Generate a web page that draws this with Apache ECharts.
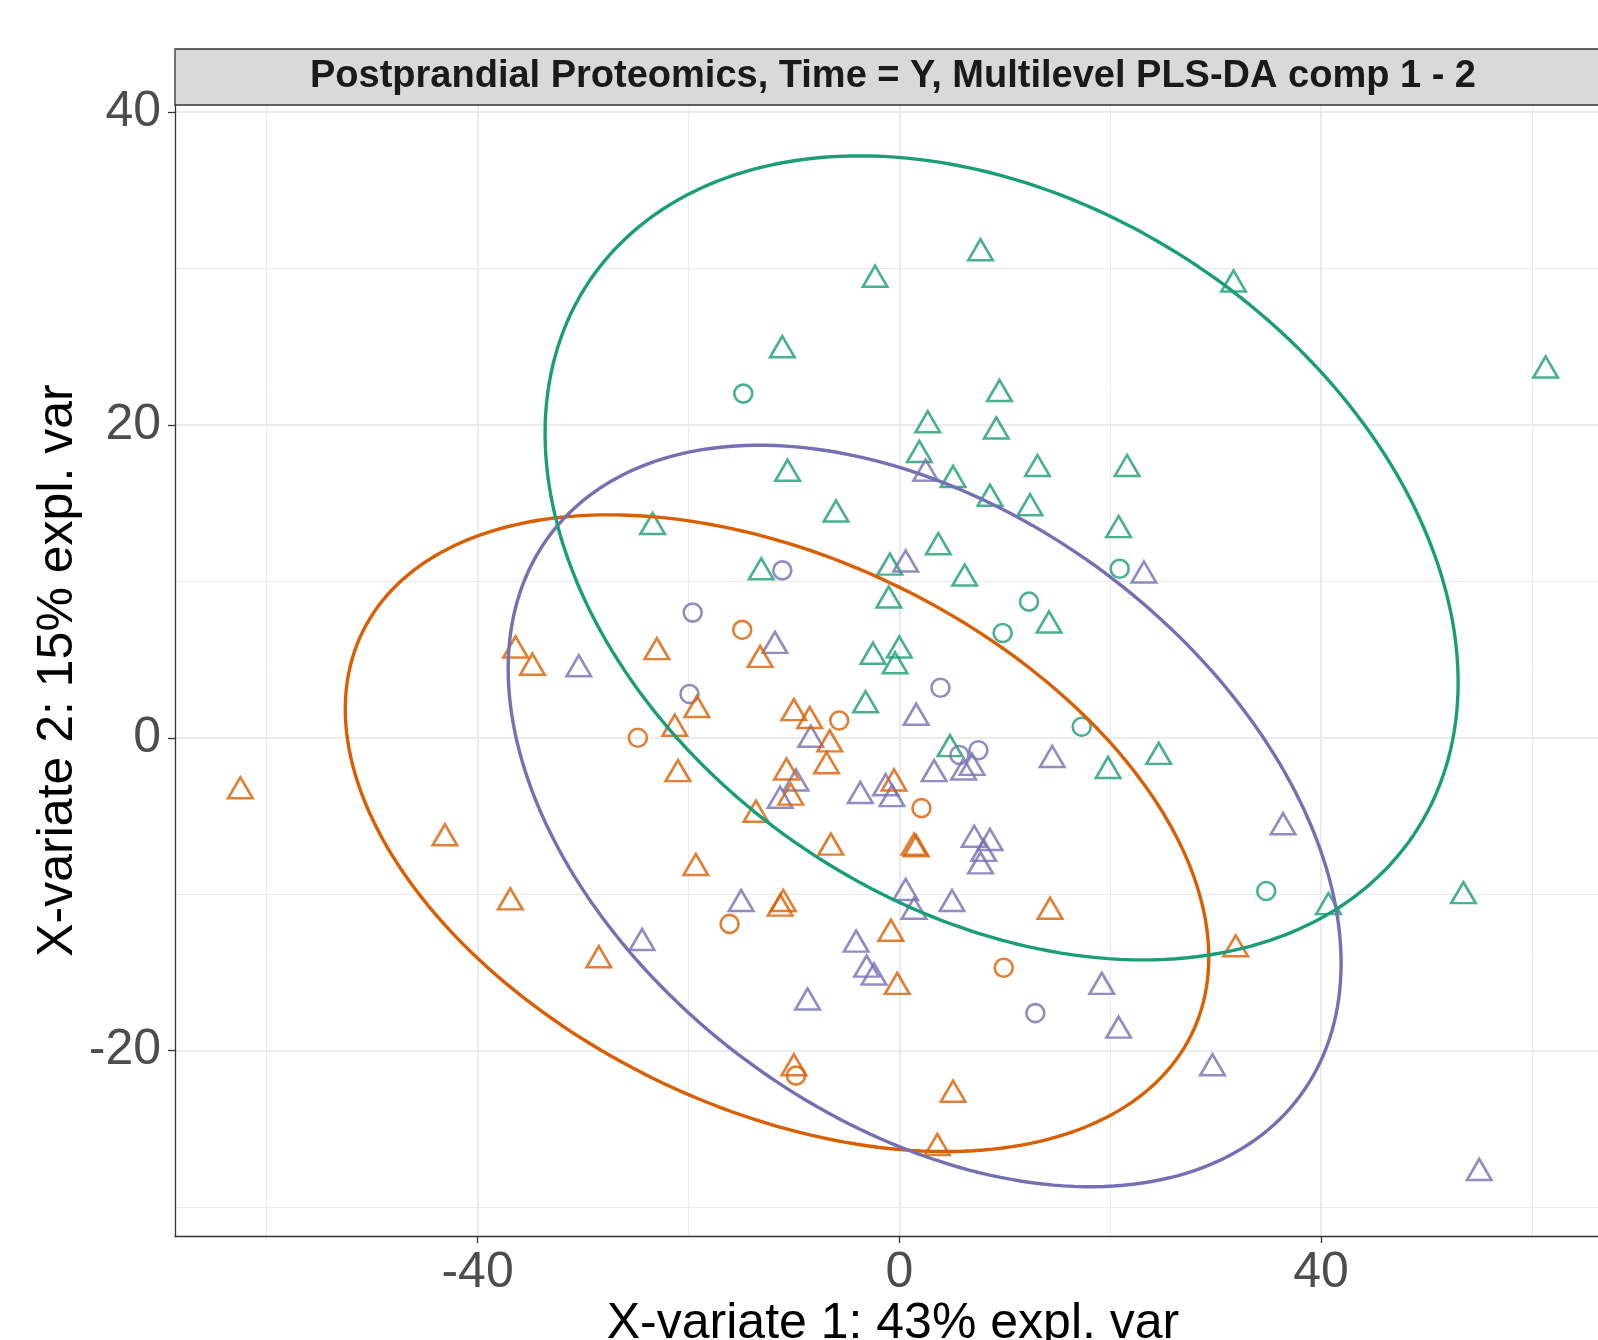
<!DOCTYPE html>
<html>
<head>
<meta charset="utf-8">
<title>Postprandial Proteomics, Multilevel PLS-DA</title>
<script src="https://cdn.jsdelivr.net/npm/echarts@6/dist/echarts.min.js"></script>
<style>
  html, body { margin: 0; padding: 0; background: #ffffff; }
  #container { width: 1598px; height: 1340px; }
</style>
</head>
<body>
<div id="container"></div>
<script>
// sample scores, [X-variate 1, X-variate 2]
const greenTriangles = [
    [-10.6, 17.1], [-6.0, 14.5], [-23.4, 13.7], [-13.1, 10.8], [-0.9, 11.1],
    [-1.0, 9.0], [-2.5, 5.4], [0.0, 5.8], [-0.4, 4.8], [2.7, 20.2],
    [1.9, 18.3], [9.2, 19.8], [13.1, 17.4], [21.6, 17.4], [5.1, 16.7],
    [8.6, 15.5], [12.4, 14.9], [20.8, 13.5], [3.7, 12.4], [6.2, 10.4],
    [14.2, 7.4], [-11.1, 25.0], [-2.3, 29.5], [7.7, 31.2], [31.7, 29.2],
    [9.5, 22.2], [61.3, 23.7], [-3.2, 2.3], [4.8, -0.5], [19.8, -1.9],
    [24.6, -1.0], [40.7, -10.6], [53.5, -9.9]
];
const greenCircles = [
    [-14.8, 22.0], [20.9, 10.8], [12.3, 8.7], [9.8, 6.7], [17.3, 0.7], [34.8, -9.8]
];
const purpleTriangles = [
    [2.5, 17.1], [0.6, 11.3], [23.2, 10.6], [-11.8, 6.1], [-30.4, 4.6],
    [1.6, 1.5], [-8.4, 0.1], [-9.8, -2.7], [-11.3, -3.8], [-3.7, -3.5],
    [-1.3, -3.0], [-0.7, -3.7], [3.3, -2.1], [6.1, -2.0], [6.9, -1.7],
    [14.5, -1.2], [7.1, -6.3], [8.6, -6.5], [8.0, -7.2], [7.7, -8.0],
    [0.6, -9.7], [1.4, -10.9], [5.0, -10.4], [-15.0, -10.4], [-24.4, -12.9],
    [-4.1, -13.0], [-3.1, -14.6], [-2.4, -15.1], [-8.7, -16.7], [19.2, -15.7],
    [20.8, -18.5], [29.7, -20.9], [36.4, -5.5], [55.0, -27.6]
];
const purpleCircles = [
    [-11.1, 10.7], [-19.6, 8.0], [-19.9, 2.8], [3.9, 3.2], [5.7, -1.1], [7.5, -0.8], [12.9, -17.6]
];
const orangeTriangles = [
    [-23.0, 5.7], [-13.2, 5.2], [-19.2, 2.0], [-21.3, 0.8], [-21.0, -2.1],
    [-10.0, 1.8], [-8.5, 1.3], [-6.6, -0.2], [-6.9, -1.6], [-10.7, -2.0],
    [-10.3, -3.6], [-13.6, -4.7], [-0.5, -2.7], [-6.5, -6.8], [1.6, -6.9],
    [1.4, -6.8], [-19.3, -8.1], [-11.0, -10.4], [-11.3, -10.7], [-0.8, -12.3],
    [-0.2, -15.7], [14.3, -10.9], [-10.0, -20.9], [5.1, -22.6], [3.6, -26.0],
    [31.9, -13.3], [-62.5, -3.2], [-36.4, 5.8], [-34.8, 4.7], [-43.1, -6.2],
    [-36.9, -10.3], [-28.5, -14.0]
];
const orangeCircles = [
    [-14.9, 6.9], [-24.8, 0.0], [-5.7, 1.1], [2.1, -4.5], [-16.1, -11.9], [9.9, -14.7], [-9.8, -21.6]
];

// confidence ellipses: [centre x, centre y, sd x, sd y, correlation]
const greenEllipse = [9.7, 11.5, 43.3, 25.7, -0.31];
const purpleEllipse = [2.4, -5.0, 39.5, 23.7, -0.397];
const orangeEllipse = [-11.6, -6.1, 40.95, 20.35, -0.39];

const xMajorTicks = [-40, 0, 40];
const xMinorTicks = [-60, -20, 20, 60];
const yMajorTicks = [-20, 0, 20, 40];
const yMinorTicks = [-30, -10, 10, 30];

const titleText = 'Postprandial Proteomics, Time = Y, Multilevel PLS-DA comp 1 - 2';
const xName = 'X-variate 1: 43% expl. var';
const yName = 'X-variate 2: 15% expl. var';

const GREEN = '#1B9E77', ORANGE = '#D95F02', PURPLE = '#7570B3';
const FONT = '"Liberation Sans", Arial, sans-serif';

function ellipseOutline(p) {
    const [cx, cy, sx, sy, r] = p;
    const pts = [];
    for (let i = 0; i <= 240; i++) {
        const t = i / 240 * 2 * Math.PI;
        pts.push([
            cx + sx * Math.cos(t),
            cy + sy * (r * Math.cos(t) + Math.sqrt(1 - r * r) * Math.sin(t))
        ]);
    }
    return pts;
}

function ellipseSeries(p, color) {
    return {
        type: 'line',
        data: ellipseOutline(p),
        showSymbol: false,
        symbol: 'none',
        smooth: false,
        silent: true,
        lineStyle: { color: color, width: 3.4 },
        z: 4
    };
}

function openSymbols(data, color, symbol) {
    return {
        type: 'scatter',
        data: data,
        symbol: symbol,
        symbolSize: symbol === 'triangle' ? [24.5, 21] : 18,
        itemStyle: { color: 'rgba(0,0,0,0)', borderColor: color, borderWidth: 2.6 },
        silent: true,
        z: 3
    };
}

let dom = document.getElementById('container');
let myChart = echarts.init(dom, null, { renderer: 'canvas' });

const xMin = -68.7, xMax = 67.5, yMin = -31.85, yMax = 40.45;

let option = {
    animation: false,
    backgroundColor: '#ffffff',
    grid: {
        left: 175, top: 105, width: 1436, height: 1131,
        containLabel: false, outerBoundsMode: 'none'
    },
    graphic: [
        {
            type: 'rect',
            shape: { x: 175, y: 49, width: 1436, height: 56 },
            style: { fill: '#D9D9D9', stroke: '#333333', lineWidth: 1.3 },
            z: 10
        },
        {
            type: 'text',
            x: 893, y: 77,
            style: {
                text: titleText,
                fontSize: 38, fontWeight: 'bold', fontFamily: FONT,
                fill: '#1A1A1A', align: 'center', verticalAlign: 'middle'
            },
            z: 11
        }
    ],
    xAxis: [
        {
            type: 'value', min: xMin, max: xMax, position: 'bottom',
            axisLine: { show: true, onZero: false, lineStyle: { color: '#333333', width: 1.3 } },
            axisTick: { show: true, length: 7, customValues: xMajorTicks, lineStyle: { color: '#333333', width: 1.3 } },
            axisLabel: { customValues: xMajorTicks, margin: 12, fontSize: 50, color: '#4D4D4D', fontFamily: FONT },
            splitLine: { show: true, lineStyle: { color: '#EBEBEB', width: 2 } },
            name: xName, nameLocation: 'middle', nameGap: 63, nameMoveOverlap: false,
            nameTextStyle: { fontSize: 50, color: '#000000', fontFamily: FONT }
        },
        {
            type: 'value', min: xMin, max: xMax,
            axisLine: { show: false },
            axisTick: { show: false, customValues: xMinorTicks },
            axisLabel: { show: false },
            splitLine: { show: true, lineStyle: { color: '#EBEBEB', width: 1 } }
        }
    ],
    yAxis: [
        {
            type: 'value', min: yMin, max: yMax, position: 'left',
            axisLine: { show: true, onZero: false, lineStyle: { color: '#333333', width: 1.3 } },
            axisTick: { show: true, length: 7, customValues: yMajorTicks, lineStyle: { color: '#333333', width: 1.3 } },
            axisLabel: { customValues: yMajorTicks, margin: 14, fontSize: 50, color: '#4D4D4D', fontFamily: FONT },
            splitLine: { show: true, lineStyle: { color: '#EBEBEB', width: 2 } },
            name: yName, nameLocation: 'middle', nameGap: 92, nameMoveOverlap: false,
            nameTextStyle: { fontSize: 50, color: '#000000', fontFamily: FONT }
        },
        {
            type: 'value', min: yMin, max: yMax,
            axisLine: { show: false },
            axisTick: { show: false, customValues: yMinorTicks },
            axisLabel: { show: false },
            splitLine: { show: true, lineStyle: { color: '#EBEBEB', width: 1 } }
        }
    ],
    series: [
        openSymbols(greenTriangles, GREEN, 'triangle'),
        openSymbols(greenCircles, GREEN, 'circle'),
        openSymbols(purpleTriangles, PURPLE, 'triangle'),
        openSymbols(purpleCircles, PURPLE, 'circle'),
        openSymbols(orangeTriangles, ORANGE, 'triangle'),
        openSymbols(orangeCircles, ORANGE, 'circle'),
        ellipseSeries(orangeEllipse, ORANGE),
        ellipseSeries(purpleEllipse, PURPLE),
        ellipseSeries(greenEllipse, GREEN)
    ]
};
myChart.setOption(option);
</script>
</body>
</html>
